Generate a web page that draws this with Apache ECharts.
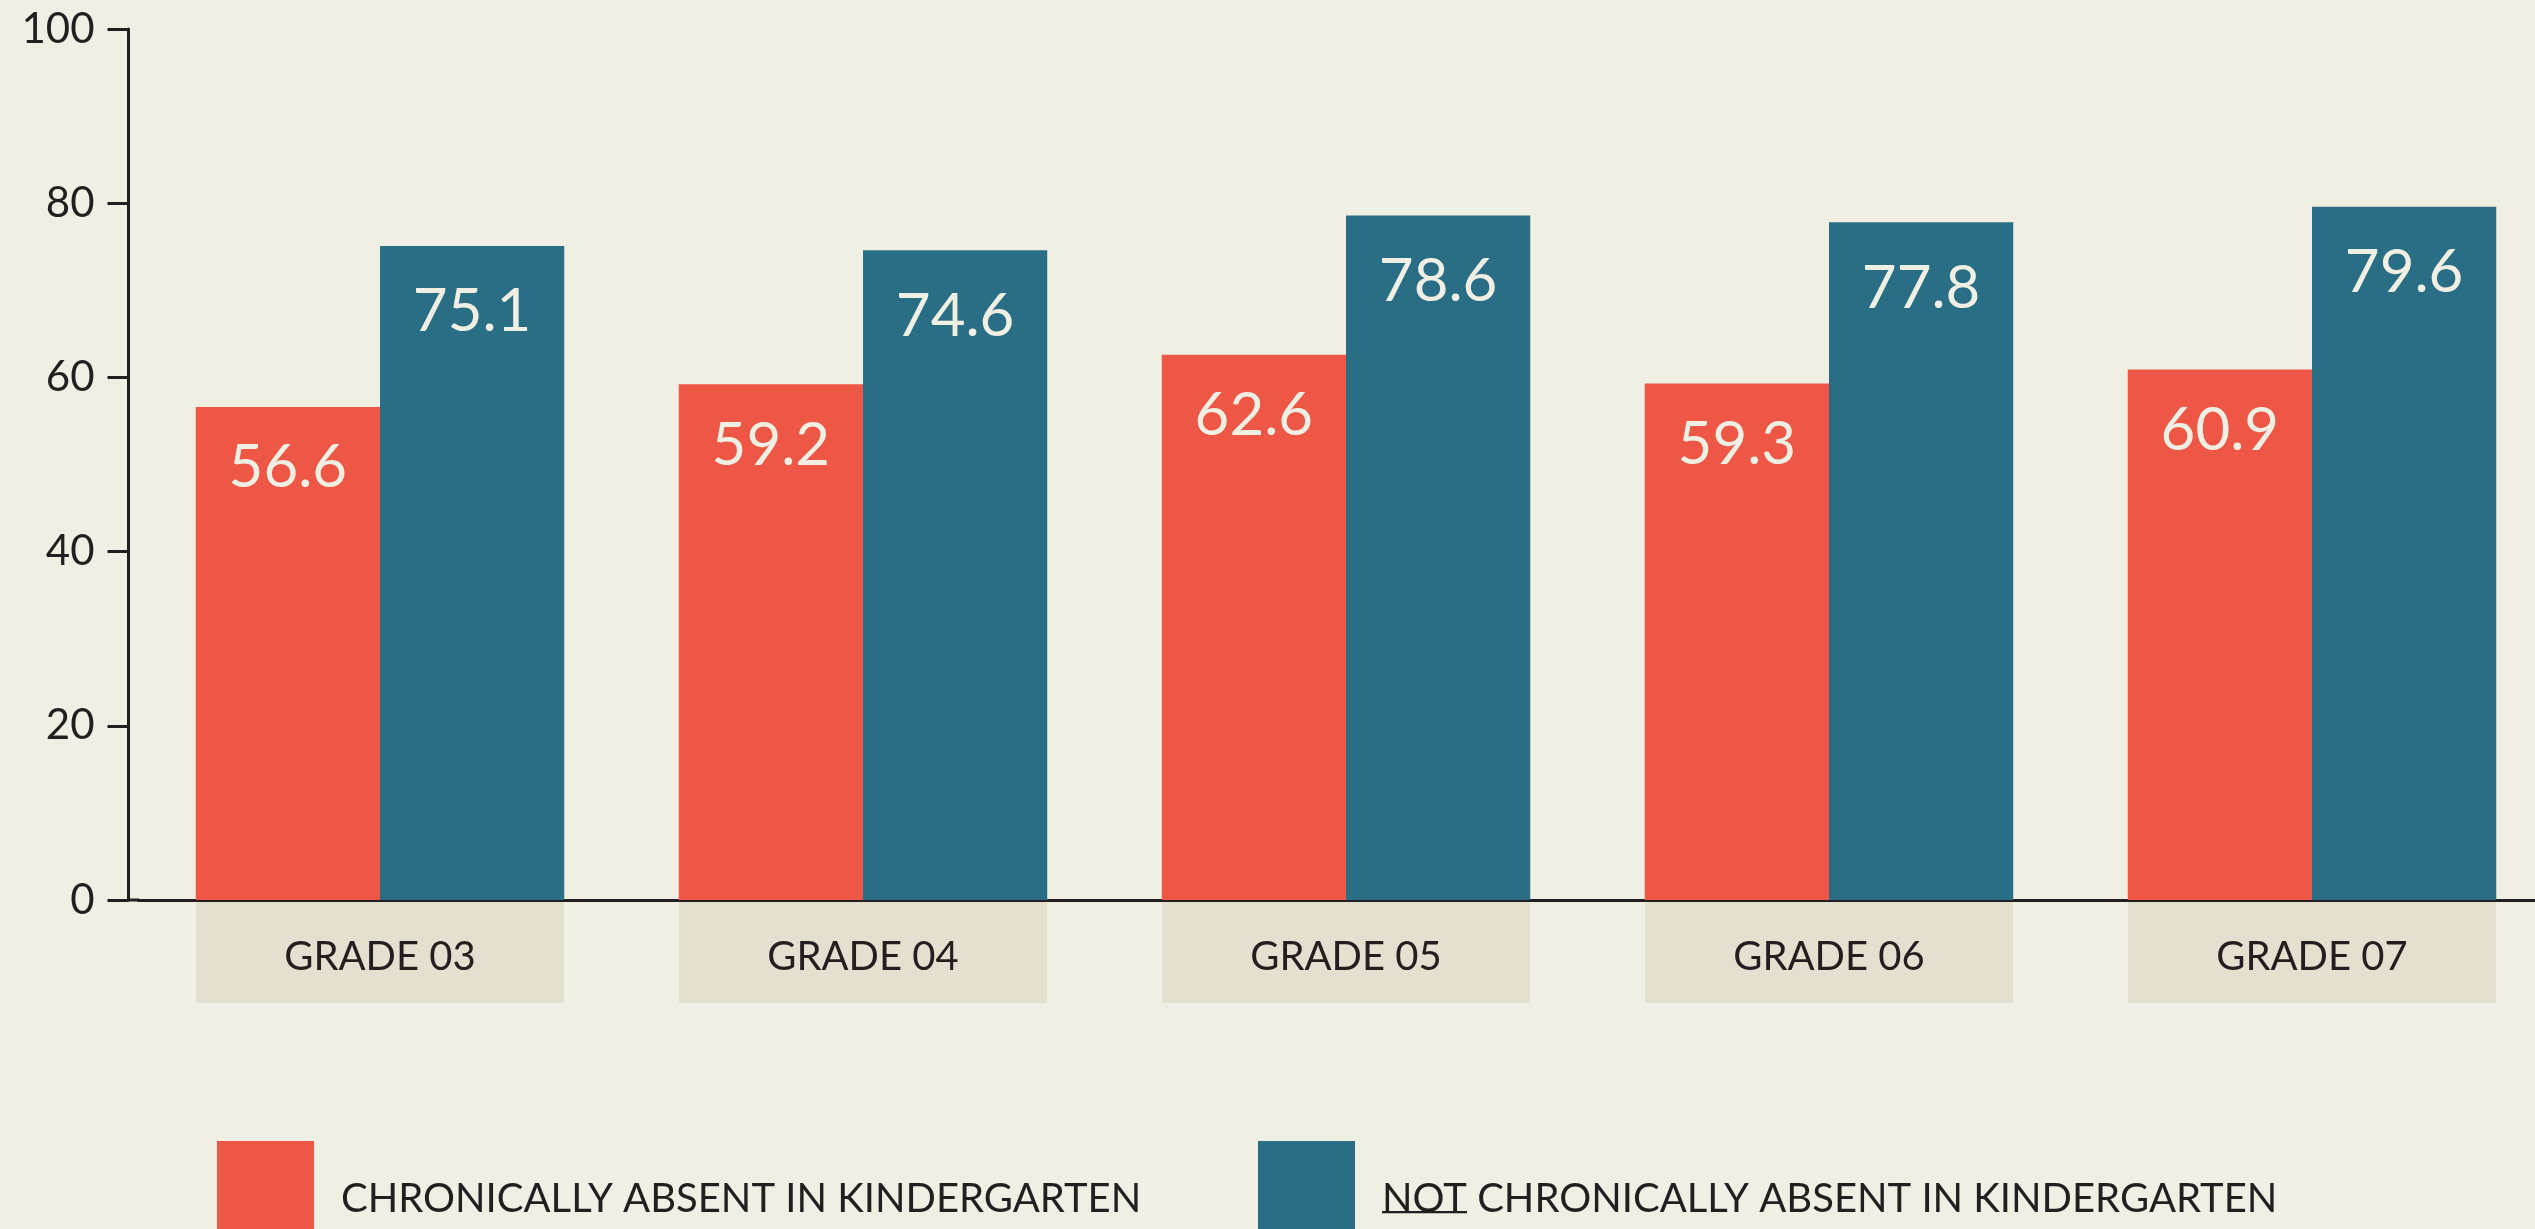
<!DOCTYPE html>
<html>
<head>
<meta charset="utf-8">
<script src="https://cdn.jsdelivr.net/npm/echarts@6/dist/echarts.min.js"></script>
<style>
html,body{margin:0;padding:0;background:#efefe3;}
#chart{width:2535px;height:1229px;}
</style>
</head>
<body>
<div id="chart"></div>
<script>
var categories = ['GRADE 03', 'GRADE 04', 'GRADE 05', 'GRADE 06', 'GRADE 07'];
var chronicallyAbsent = [56.6, 59.2, 62.6, 59.3, 60.9];
var notChronicallyAbsent = [75.1, 74.6, 78.6, 77.8, 79.6];
var yTicks = [0, 20, 40, 60, 80, 100];
var seriesNames = ['CHRONICALLY ABSENT IN KINDERGARTEN', 'NOT CHRONICALLY ABSENT IN KINDERGARTEN'];

var RED = '#ee5746';
var BLUE = '#296e85';
var INK = '#231f20';
var FONT = 'Lato';

// underline image for "NOT"
var ul = document.createElement('canvas');
ul.width = 4; ul.height = 56;
var uctx = ul.getContext('2d');
uctx.fillStyle = INK;
uctx.fillRect(0, 45, 4, 3);

var chart = echarts.init(document.getElementById('chart'), null, {renderer: 'canvas'});
var option = {
  backgroundColor: '#efefe3',
  animation: false,
  textStyle: {fontFamily: FONT},
  grid: {left: 138.5, width: 2415, top: 29, height: 871, containLabel: false, outerBoundsMode: 'none'},
  legend: [
    {
      data: [seriesNames[0]],
      left: 217, top: 1141, padding: 0,
      itemWidth: 97, itemHeight: 116, icon: 'rect',
      selectedMode: false,
      textStyle: {fontFamily: FONT, fontSize: 40, color: INK, padding: [0, 0, 0, 22]}
    },
    {
      data: [seriesNames[1]],
      left: 1258, top: 1141, padding: 0,
      itemWidth: 97, itemHeight: 116, icon: 'rect',
      selectedMode: false,
      formatter: function () { return '{u|NOT} CHRONICALLY ABSENT IN KINDERGARTEN'; },
      textStyle: {
        fontFamily: FONT, fontSize: 40, color: INK, lineHeight: 56, padding: [0, 0, 0, 22],
        rich: {
          u: {fontFamily: FONT, fontSize: 40, color: INK, lineHeight: 56, backgroundColor: {image: ul}}
        }
      }
    }
  ],
  xAxis: {
    type: 'category',
    data: categories,
    axisLine: {show: true, lineStyle: {color: INK, width: 3}},
    axisTick: {show: false},
    axisLabel: {
      interval: 0,
      margin: 2,
      fontFamily: FONT,
      fontSize: 40,
      color: INK,
      backgroundColor: '#e3e0cf',
      width: 368,
      height: 91,
      lineHeight: 91,
      padding: [10, 0, 0, 0],
      align: 'center'
    },
    splitLine: {show: false}
  },
  yAxis: {
    type: 'value',
    min: yTicks[0],
    max: yTicks[yTicks.length - 1],
    interval: 20,
    offset: 10,
    axisLine: {show: true, lineStyle: {color: INK, width: 3}},
    axisTick: {show: true, length: 21, lineStyle: {color: INK, width: 3}},
    axisLabel: {fontFamily: FONT, fontSize: 42, color: INK, margin: 34},
    splitLine: {show: false}
  },
  series: [
    {
      name: seriesNames[0],
      type: 'bar',
      data: chronicallyAbsent,
      barWidth: 184.25,
      barGap: '0%',
      itemStyle: {color: RED},
      label: {show: true, position: 'insideTop', distance: 31, fontFamily: FONT, fontSize: 60, color: '#efefe3'}
    },
    {
      name: seriesNames[1],
      type: 'bar',
      data: notChronicallyAbsent,
      barWidth: 184.25,
      barGap: '0%',
      itemStyle: {color: BLUE},
      label: {show: true, position: 'insideTop', distance: 36, fontFamily: FONT, fontSize: 60, color: '#efefe3'}
    }
  ]
};
chart.setOption(option);

// close the small gap between the offset y-axis line and the x-axis line
var y0 = chart.convertToPixel({yAxisIndex: 0}, 0);
var gx = chart.convertToPixel({xAxisIndex: 0}, categories[0]) - 2415 / categories.length / 2;
chart.setOption({
  graphic: [{
    type: 'line', z: 10,
    shape: {x1: gx - 11.5, y1: y0, x2: gx + 1, y2: y0},
    style: {stroke: INK, lineWidth: 3}
  }]
});
</script>
</body>
</html>
